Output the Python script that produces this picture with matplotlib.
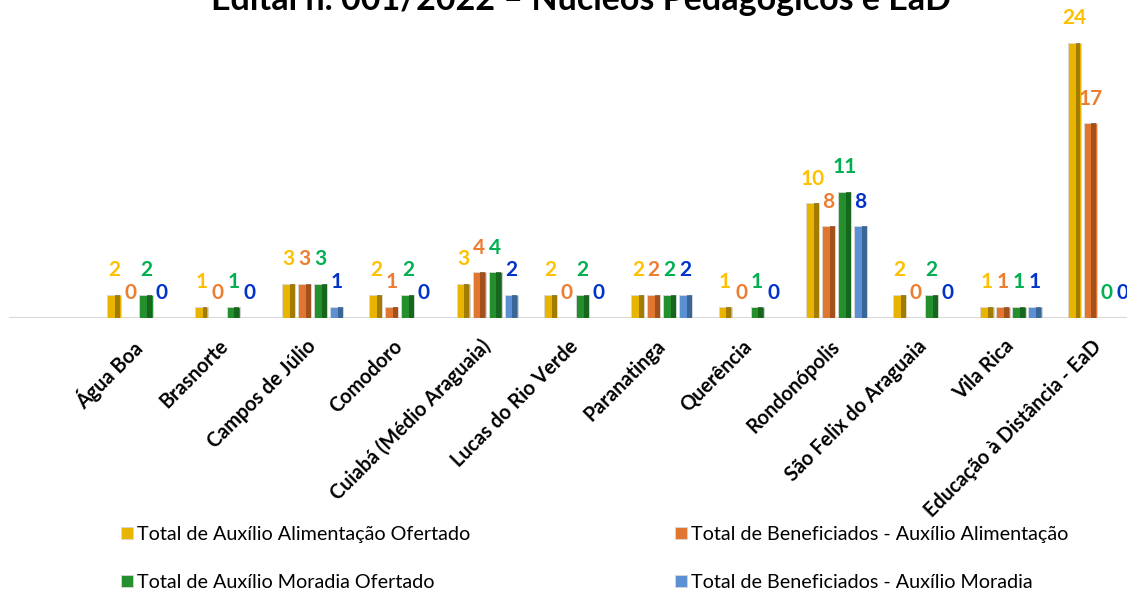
import numpy as np
import matplotlib.pyplot as plt
import matplotlib.transforms as mtransforms

plt.rcParams['font.family'] = ['Lato', 'DejaVu Sans']

# Data
campi = ["Água Boa", "Brasnorte", "Campos de Júlio", "Comodoro",
         "Cuiabá (Médio Araguaia)", "Lucas do Rio Verde", "Paranatinga",
         "Querência", "Rondonópolis", "São Felix do Araguaia", "Vila Rica",
         "Educação à Distância - EaD"]
alim_ofertado = [2, 1, 3, 2, 3, 2, 2, 1, 10, 2, 1, 24]
alim_benef = [0, 0, 3, 1, 4, 0, 2, 0, 8, 0, 1, 17]
moradia_ofertado = [2, 1, 3, 2, 4, 2, 2, 1, 11, 2, 1, 0]
moradia_benef = [0, 0, 1, 0, 2, 0, 2, 0, 8, 0, 1, 0]

series = [
    ("Total de Auxílio Alimentação Ofertado", alim_ofertado),
    ("Total de Beneficiados - Auxílio Alimentação", alim_benef),
    ("Total de Auxílio Moradia Ofertado", moradia_ofertado),
    ("Total de Beneficiados - Auxílio Moradia", moradia_benef),
]
bright = ["#E8B400", "#E0762F", "#23902D", "#5B90D2"]
dark = ["#8A6A00", "#8E4516", "#125A18", "#2F5883"]
label_colors = ["#FFC000", "#ED7D31", "#00B050", "#0033CC"]

fig = plt.figure(figsize=(11.27, 5.91), dpi=100)
W, H = 1127, 591
ax = fig.add_axes([9 / W, (H - 318) / H, (W - 9) / W, 290 / H])

px_per_group = 87.3
x = np.arange(len(campi))
ax.set_xlim((9 - 138) / px_per_group, (1127 - 138) / px_per_group)
ax.set_ylim(0, 290 / 11.46)

step = 0.183
width = 0.15
for i, (name, vals) in enumerate(series):
    pos = x + (i - 1.5) * step
    ax.bar(pos, vals, width, color=bright[i], edgecolor="#d8d8d8",
           linewidth=0.6, label=name, zorder=2)
    # shaded right side for the bevel look
    ax.bar(pos + width * 0.28, vals, width * 0.38, color=dark[i],
           linewidth=0, zorder=3, alpha=0.75)
    for xp, v in zip(pos, vals):
        ax.annotate(str(v), (xp, v), xytext=(0, 10.5), textcoords="offset points",
                    ha="center", va="bottom", fontsize=15, fontweight="bold",
                    color=label_colors[i])

ax.axhline(0, color="#d9d9d9", linewidth=1.5, zorder=1)
for s in ax.spines.values():
    s.set_visible(False)
ax.set_yticks([])
ax.set_xticks(x)
ax.set_xticklabels(campi, rotation=45, ha="right", rotation_mode="anchor",
                   fontsize=14.3, fontweight="bold")
ax.tick_params(axis="x", length=0, pad=13)
shift = mtransforms.ScaledTranslation(-7 / 100, 0, fig.dpi_scale_trans)
for lbl in ax.get_xticklabels():
    lbl.set_transform(lbl.get_transform() + shift)

fig.text(581 / W, 1 - 10 / H, "Edital n. 001/2022 – Núcleos Pedagógicos e EaD",
         ha="center", va="baseline", fontsize=24.5, fontweight="bold")

# Legend
handles, labels = ax.get_legend_handles_labels()
order = [0, 2, 1, 3]
leg = fig.legend([handles[k] for k in order], [labels[k] for k in order],
                 ncol=2, loc="upper left", bbox_to_anchor=(121 / W, 1 - 526 / H),
                 frameon=False, fontsize=14.2, handlelength=0.6,
                 handleheight=0.6, handletextpad=0.2, columnspacing=10.4,
                 labelspacing=1.58, borderaxespad=0, borderpad=0)

plt.savefig("out.png", dpi=100)
plt.close()
